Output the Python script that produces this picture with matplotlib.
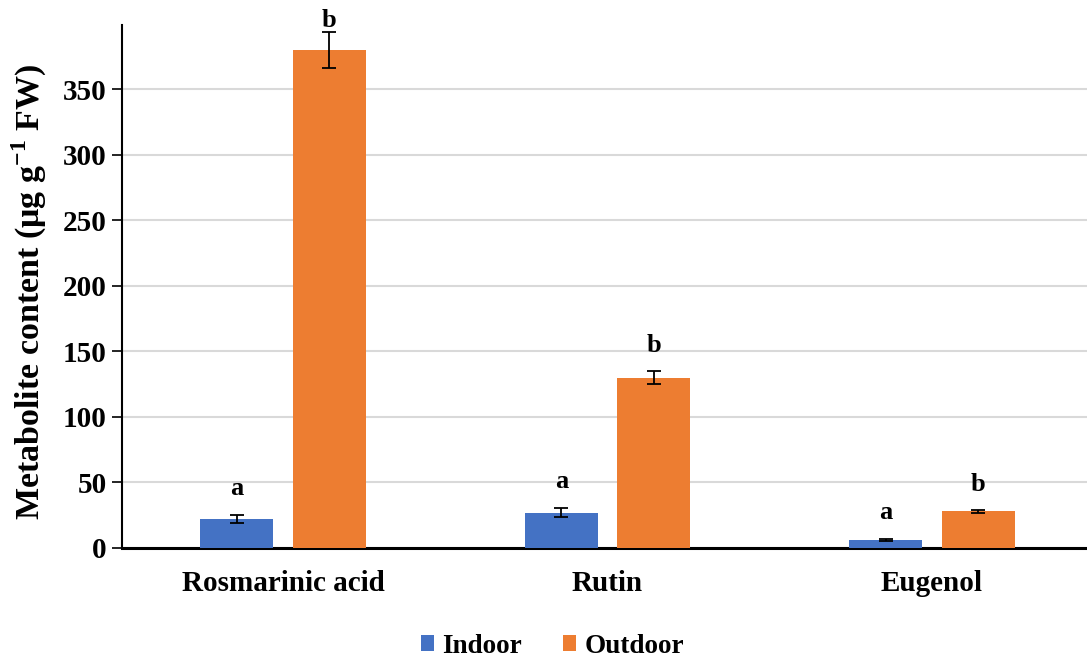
import numpy as np
import matplotlib
matplotlib.use('Agg')
import matplotlib.pyplot as plt

plt.rcParams['font.family'] = ['Liberation Serif', 'DejaVu Serif']
plt.rcParams['font.weight'] = 'bold'
plt.rcParams['mathtext.fontset'] = 'custom'
plt.rcParams['mathtext.rm'] = 'Liberation Serif:bold'
plt.rcParams['mathtext.bf'] = 'Liberation Serif:bold'

# data
compounds = ['Rosmarinic acid', 'Rutin', 'Eugenol']
indoor = [22, 27, 6]
indoor_err = [3, 3.5, 1]
outdoor = [380, 130, 28]
outdoor_err = [13.5, 5, 1]
indoor_letters = ['a', 'a', 'a']
outdoor_letters = ['b', 'b', 'b']

fig = plt.figure(figsize=(10.87, 6.63), dpi=100)
ax = fig.add_axes([0.1122, 0.1735, 0.8878, 0.7888])

x = np.arange(len(compounds))
w = 0.225
off = 0.1425
ax.bar(x - off, indoor, w, color='#4472C4', label='Indoor', zorder=3)
ax.bar(x + off, outdoor, w, color='#ED7D31', label='Outdoor', zorder=3)
ax.errorbar(x - off, indoor, yerr=indoor_err, fmt='none', ecolor='black',
            capsize=5, elinewidth=1.3, capthick=1.3, zorder=4)
ax.errorbar(x + off, outdoor, yerr=outdoor_err, fmt='none', ecolor='black',
            capsize=5, elinewidth=1.3, capthick=1.3, zorder=4)

for xi, v, e, t in zip(x - off, indoor, indoor_err, indoor_letters):
    ax.annotate(t, (xi, v + e), xytext=(0, 11), textcoords='offset points',
                ha='center', va='bottom', fontsize=19, fontweight='bold',
                annotation_clip=False)
for xi, v, e, t in zip(x + off, outdoor, outdoor_err, outdoor_letters):
    dy = 0 if v + e > 380 else 10
    ax.annotate(t, (xi, v + e), xytext=(0, dy), textcoords='offset points',
                ha='center', va='bottom', fontsize=19, fontweight='bold',
                annotation_clip=False)

ax.set_xlim(-0.497, 2.478)
ax.set_ylim(0, 399)
ax.set_yticks(range(0, 351, 50))
ax.set_xticks(x)
ax.set_xticklabels(compounds, fontsize=21, fontweight='bold')
ax.tick_params(axis='x', length=0, pad=16)
ax.tick_params(axis='y', length=7, width=1.2, labelsize=21, pad=4)
ax.set_ylabel(r'Metabolite content (μg g$^{\mathbf{-1}}$ FW)', fontsize=24.5,
              fontweight='bold')
ax.yaxis.set_label_coords(-0.076, 0.49)

ax.grid(axis='y', color='#d9d9d9', linewidth=1.5, zorder=0)
ax.spines['top'].set_visible(False)
ax.spines['right'].set_visible(False)
ax.spines['left'].set_linewidth(1.5)
ax.spines['bottom'].set_linewidth(2.2)

leg = fig.legend(loc='lower center', bbox_to_anchor=(0.508, -0.03), ncol=2,
                 frameon=False, handlelength=0.5, handleheight=0.5,
                 handletextpad=0.3, columnspacing=1.5,
                 prop={'weight': 'bold', 'size': 19.5})

fig.savefig('out.png', dpi=100)
